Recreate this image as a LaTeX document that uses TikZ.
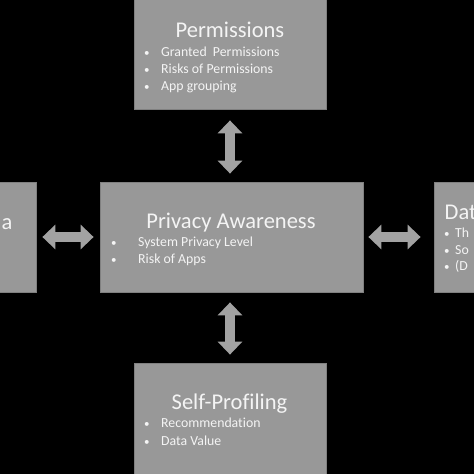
\documentclass[tikz,border=0pt]{standalone}
\usepackage{fontspec}
\setmainfont{Carlito}[Ligatures=NoCommon]
\usetikzlibrary{arrows.meta}
\definecolor{boxgray}{HTML}{989898}
\definecolor{boxedge}{HTML}{808080}
\definecolor{arrgray}{HTML}{A2A2A2}
\definecolor{txt}{HTML}{F4F4F4}
\tikzset{
  box/.style={fill=boxgray, draw=boxedge, line width=0.8pt, inner sep=0pt},
  ttl/.style={text=txt, font=\fontsize{22.5}{26}\selectfont, anchor=base, inner sep=0pt},
  itm/.style={text=txt, font=\fontsize{13.8}{16}\selectfont, anchor=base west, inner sep=0pt},
  dbl/.style={draw=arrgray, line width=10pt, {Triangle[width=24pt,length=13pt]}-{Triangle[width=24pt,length=13pt]}}
}
\newcommand{\bul}{{\fontsize{11}{13}\selectfont\textbullet}}
\begin{document}
\begin{tikzpicture}[x=1pt,y=-1pt]
\useasboundingbox (0,0) rectangle (474,474);
\fill[black] (0,0) rectangle (474,474);
\clip (0,0) rectangle (474,474);
% boxes
\node[box, minimum width=192pt, minimum height=114pt] (perm) at (230,52) {};
\node[box, minimum width=41pt, minimum height=110pt] (left) at (15.5,237) {};
\node[box, minimum width=263pt, minimum height=110pt] (center) at (231.5,237) {};
\node[box, minimum width=50pt, minimum height=110pt] (right) at (459,237) {};
\node[box, minimum width=192pt, minimum height=117pt] (self) at (230,421.5) {};
% Permissions
\node[ttl] (permt) at (230,37.5) {Permissions};
\node[itm] (pb1) at (144,56) {\bul};
\node[itm] (pi1) at (161,56) {Granted\ \ Permissions};
\node[itm] (pb2) at (144,73.3) {\bul};
\node[itm] (pi2) at (161,73.3) {Risks of Permissions};
\node[itm] (pb3) at (144,90.6) {\bul};
\node[itm] (pi3) at (161,90.6) {App grouping};
% Privacy Awareness
\node[ttl] (cent) at (231,228.3) {Privacy Awareness};
\node[itm] (cb1) at (111,246.7) {\bul};
\node[itm] (ci1) at (138,246.7) {System Privacy Level};
\node[itm] (cb2) at (111,263.5) {\bul};
\node[itm] (ci2) at (138,263.5) {Risk of Apps};
% Self-Profiling
\node[ttl] (selft) at (229.5,409.3) {Self-Profiling};
\node[itm] (sb1) at (144,427.7) {\bul};
\node[itm] (si1) at (161,427.7) {Recommendation};
\node[itm] (sb2) at (144,445) {\bul};
\node[itm] (si2) at (161,445) {Data Value};
% left box text
\node[ttl, anchor=base east] (leftt) at (12.5,229) {a};
% right box text
\node[ttl, anchor=base west] (rightt) at (444.5,219) {Dat};
\node[itm] (rb1) at (444,237.5) {\bul};
\node[itm] (ri1) at (455,237.5) {Th};
\node[itm] (rb2) at (444,254) {\bul};
\node[itm] (ri2) at (455,254) {So};
\node[itm] (rb3) at (444,270.5) {\bul};
\node[itm] (ri3) at (455,270.5) {(D};
% arrows
\draw[dbl, shorten <=6pt, shorten >=6pt] (left.east) -- (center.west);
\draw[dbl, shorten <=5pt, shorten >=13pt] (center.east) -- (right.west);
\draw[dbl, shorten <=11pt, shorten >=8pt] (perm.south) -- (perm.south |- center.north);
\draw[dbl, shorten <=10pt, shorten >=8pt] (perm.south |- center.south) -- (self.north);
\end{tikzpicture}
\end{document}
